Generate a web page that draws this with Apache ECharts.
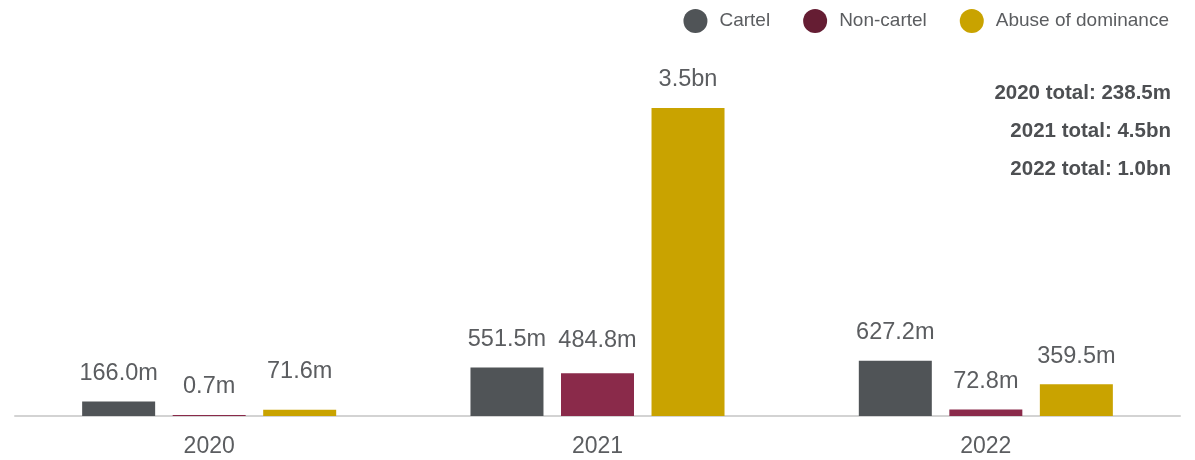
<!DOCTYPE html>
<html>
<head>
<meta charset="utf-8">
<script src="https://cdn.jsdelivr.net/npm/echarts@6/dist/echarts.min.js"></script>
<style>
  html, body { margin: 0; padding: 0; background: #fff; }
  #chart { width: 1195px; height: 460px; }
</style>
</head>
<body>
<div id="chart"></div>
<script>
// Fines by year, in millions
const years = ['2020', '2021', '2022'];
const cartel = [166.0, 551.5, 627.2];
const nonCartel = [0.7, 484.8, 72.8];
const abuseOfDominance = [71.6, 3500, 359.5];
const totalsText = ['2020 total: 238.5m', '2021 total: 4.5bn', '2022 total: 1.0bn'];

const colors = {
  cartel: '#505457',
  nonCartel: '#8a2a4a',
  nonCartelLegend: '#651d33',
  abuse: '#c9a300'
};

// Small upward nudges so neighbouring labels sit on one line
const labelLift = {
  cartel: [0, 0, 0],
  nonCartel: [0, 5, 0],
  abuse: [10, 0, 0]
};

const FONT = 'Liberation Sans, Arial, sans-serif';

function fmt(v) {
  return v >= 1000 ? (v / 1000).toFixed(1) + 'bn' : v.toFixed(1) + 'm';
}

function items(values, lifts) {
  return values.map((v, i) => ({
    value: v,
    label: { offset: [0, -lifts[i]] }
  }));
}

const labelStyle = {
  show: true,
  position: 'top',
  distance: 16,
  fontFamily: FONT,
  fontSize: 23.5,
  color: '#5b5d60',
  formatter: p => fmt(p.value)
};

function series(name, values, color, lifts) {
  return {
    name: name,
    type: 'bar',
    barWidth: 73,
    barGap: '24%',
    barMinHeight: 1,
    itemStyle: { color: color },
    label: labelStyle,
    data: items(values, lifts),
    silent: true
  };
}

const chart = echarts.init(document.getElementById('chart'), null, { renderer: 'canvas' });

chart.setOption({
  animation: false,
  backgroundColor: '#fff',
  title: totalsText.map((t, i) => ({
    text: t,
    right: 24,
    top: 83 + i * 38,
    padding: 0,
    textStyle: {
      fontFamily: FONT,
      fontSize: 20.5,
      fontWeight: 'bold',
      color: '#4d4f52'
    }
  })),
  legend: {
    right: 26,
    top: 9,
    padding: 0,
    icon: 'circle',
    itemWidth: 24,
    itemHeight: 24,
    itemGap: 33,
    textStyle: {
      fontFamily: FONT,
      fontSize: 19,
      color: '#5b5d60',
      padding: [0, 0, 0, 7]
    },
    data: [
      { name: 'Cartel', itemStyle: { color: colors.cartel } },
      { name: 'Non-cartel', itemStyle: { color: colors.nonCartelLegend } },
      { name: 'Abuse of dominance', itemStyle: { color: colors.abuse } }
    ]
  },
  grid: {
    left: 15,
    right: 15,
    top: 108,
    bottom: 44,
    containLabel: false
  },
  xAxis: {
    type: 'category',
    data: years,
    axisLine: { show: true, lineStyle: { color: '#d3d3d3', width: 2 } },
    axisTick: { show: false },
    axisLabel: {
      margin: 19,
      fontFamily: FONT,
      fontSize: 23,
      color: '#5b5d60'
    }
  },
  yAxis: {
    type: 'value',
    min: 0,
    max: 3500,
    show: false,
    splitLine: { show: false }
  },
  series: [
    series('Cartel', cartel, colors.cartel, labelLift.cartel),
    series('Non-cartel', nonCartel, colors.nonCartel, labelLift.nonCartel),
    series('Abuse of dominance', abuseOfDominance, colors.abuse, labelLift.abuse)
  ]
});
</script>
</body>
</html>
